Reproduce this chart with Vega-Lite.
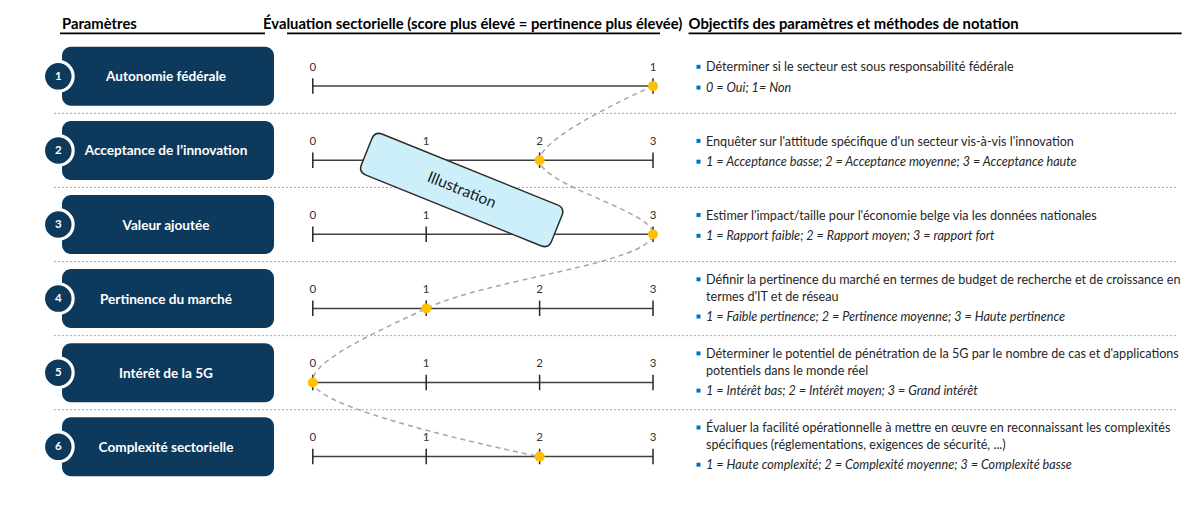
{
  "$schema": "https://vega.github.io/schema/vega-lite/v6.json",
  "width": 1203,
  "height": 508,
  "autosize": "none",
  "padding": 0,
  "background": "white",
  "config": {"view": {"stroke": null}, "font": "Lato"},
  "datasets": {
    "params": [
      {"row": 1, "parametre": "Autonomie fédérale", "score": 1, "max": 1, "objectif": "Déterminer si le secteur est sous responsabilité fédérale", "notation": "0 = Oui; 1= Non"},
      {"row": 2, "parametre": "Acceptance de l’innovation", "score": 2, "max": 3, "objectif": "Enquêter sur l'attitude spécifique d'un secteur vis-à-vis l'innovation", "notation": "1 = Acceptance basse; 2 = Acceptance moyenne; 3 = Acceptance haute"},
      {"row": 3, "parametre": "Valeur ajoutée", "score": 3, "max": 3, "objectif": "Estimer l'impact/taille pour l'économie belge via les données nationales", "notation": "1 = Rapport faible; 2 = Rapport moyen; 3 = rapport fort"},
      {"row": 4, "parametre": "Pertinence du marché", "score": 1, "max": 3, "objectif": "Définir la pertinence du marché en termes de budget de recherche et de croissance en\ntermes d'IT et de réseau", "notation": "1 = Faible pertinence; 2 = Pertinence moyenne; 3 = Haute pertinence"},
      {"row": 5, "parametre": "Intérêt de la 5G", "score": 0, "max": 3, "objectif": "Déterminer le potentiel de pénétration de la 5G par le nombre de cas et d'applications\npotentiels dans le monde réel", "notation": "1 = Intérêt bas; 2 = Intérêt moyen; 3 = Grand intérêt"},
      {"row": 6, "parametre": "Complexité sectorielle", "score": 2, "max": 3, "objectif": "Évaluer la facilité opérationnelle à mettre en œuvre en reconnaissant les complexités\nspécifiques (réglementations, exigences de sécurité, ...)", "notation": "1 = Haute complexité; 2 = Complexité moyenne; 3 = Complexité basse"}
    ],
    "ticks": [
      {"row": 1, "value": 0, "max": 1}, {"row": 1, "value": 1, "max": 1},
      {"row": 2, "value": 0, "max": 3}, {"row": 2, "value": 1, "max": 3}, {"row": 2, "value": 2, "max": 3}, {"row": 2, "value": 3, "max": 3},
      {"row": 3, "value": 0, "max": 3}, {"row": 3, "value": 1, "max": 3}, {"row": 3, "value": 2, "max": 3}, {"row": 3, "value": 3, "max": 3},
      {"row": 4, "value": 0, "max": 3}, {"row": 4, "value": 1, "max": 3}, {"row": 4, "value": 2, "max": 3}, {"row": 4, "value": 3, "max": 3},
      {"row": 5, "value": 0, "max": 3}, {"row": 5, "value": 1, "max": 3}, {"row": 5, "value": 2, "max": 3}, {"row": 5, "value": 3, "max": 3},
      {"row": 6, "value": 0, "max": 3}, {"row": 6, "value": 1, "max": 3}, {"row": 6, "value": 2, "max": 3}, {"row": 6, "value": 3, "max": 3}
    ]
  },
  "layer": [
    {
      "data": {"name": "params"},
      "transform": [{"filter": "datum.row < 6"}],
      "mark": {"type": "rule", "yOffset": 37.05, "strokeDash": [2, 2], "color": "#A8A8A8", "strokeWidth": 1},
      "encoding": {
        "x": {"datum": -0.76073, "type": "quantitative", "scale": {"domain": [-0.91946, 2.6167], "nice": false, "zero": false}, "axis": null},
        "x2": {"datum": 2.5432},
        "y": {"field": "row", "type": "quantitative", "scale": {"domain": [-0.02969, 6.82591], "reverse": true, "nice": false, "zero": false}, "axis": null}
      }
    },
    {
      "data": {"values": [{}]},
      "mark": {"type": "text", "text": "Paramètres", "align": "left", "baseline": "alphabetic", "dy": 26.8, "fontWeight": "bold", "fontSize": 14.8, "color": "#000000"},
      "encoding": {
        "x": {"datum": -0.73721, "type": "quantitative", "scale": {"domain": [-0.91946, 2.6167], "nice": false, "zero": false}, "axis": null},
        "y": {"datum": 0, "type": "quantitative", "scale": {"domain": [-0.02969, 6.82591], "reverse": true, "nice": false, "zero": false}, "axis": null}
      }
    },
    {
      "data": {"values": [{}]},
      "mark": {"type": "text", "text": "Évaluation sectorielle (score plus élevé = pertinence plus élevée)", "align": "left", "baseline": "alphabetic", "dy": 26.8, "fontWeight": "bold", "fontSize": 14.8, "color": "#000000"},
      "encoding": {
        "x": {"datum": -0.14638, "type": "quantitative", "scale": {"domain": [-0.91946, 2.6167], "nice": false, "zero": false}, "axis": null},
        "y": {"datum": 0, "type": "quantitative", "scale": {"domain": [-0.02969, 6.82591], "reverse": true, "nice": false, "zero": false}, "axis": null}
      }
    },
    {
      "data": {"values": [{}]},
      "mark": {"type": "text", "text": "Objectifs des paramètres et méthodes de notation", "align": "left", "baseline": "alphabetic", "dy": 26.8, "fontWeight": "bold", "fontSize": 14.8, "color": "#000000"},
      "encoding": {
        "x": {"datum": 1.10465, "type": "quantitative", "scale": {"domain": [-0.91946, 2.6167], "nice": false, "zero": false}, "axis": null},
        "y": {"datum": 0, "type": "quantitative", "scale": {"domain": [-0.02969, 6.82591], "reverse": true, "nice": false, "zero": false}, "axis": null}
      }
    },
    {
      "data": {"values": [{}]},
      "mark": {"type": "rule", "yOffset": 31.2, "strokeWidth": 1.8, "color": "#000000"},
      "encoding": {
        "x": {"datum": -0.74309, "type": "quantitative", "scale": {"domain": [-0.91946, 2.6167], "nice": false, "zero": false}, "axis": null},
        "x2": {"datum": -0.14051},
        "y": {"datum": 0, "type": "quantitative", "scale": {"domain": [-0.02969, 6.82591], "reverse": true, "nice": false, "zero": false}, "axis": null}
      }
    },
    {
      "data": {"values": [{}]},
      "mark": {"type": "rule", "yOffset": 31.2, "strokeWidth": 1.8, "color": "#000000"},
      "encoding": {
        "x": {"datum": -0.07584, "type": "quantitative", "scale": {"domain": [-0.91946, 2.6167], "nice": false, "zero": false}, "axis": null},
        "x2": {"datum": 1.02058},
        "y": {"datum": 0, "type": "quantitative", "scale": {"domain": [-0.02969, 6.82591], "reverse": true, "nice": false, "zero": false}, "axis": null}
      }
    },
    {
      "data": {"values": [{}]},
      "mark": {"type": "rule", "yOffset": 31.2, "strokeWidth": 1.8, "color": "#000000"},
      "encoding": {
        "x": {"datum": 1.10465, "type": "quantitative", "scale": {"domain": [-0.91946, 2.6167], "nice": false, "zero": false}, "axis": null},
        "x2": {"datum": 2.55408},
        "y": {"datum": 0, "type": "quantitative", "scale": {"domain": [-0.02969, 6.82591], "reverse": true, "nice": false, "zero": false}, "axis": null}
      }
    },
    {
      "data": {"name": "params"},
      "mark": {"type": "rect", "yOffset": -29.5, "y2Offset": 29.5, "cornerRadius": 9, "color": "#0D3A5C"},
      "encoding": {
        "x": {"datum": -0.73721, "type": "quantitative", "scale": {"domain": [-0.91946, 2.6167], "nice": false, "zero": false}, "axis": null},
        "x2": {"datum": -0.11405},
        "y": {"field": "row", "type": "quantitative", "scale": {"domain": [-0.02969, 6.82591], "reverse": true, "nice": false, "zero": false}, "axis": null},
        "y2": {"field": "row"}
      }
    },
    {
      "data": {"name": "params"},
      "mark": {"type": "point", "shape": "circle", "filled": true, "size": 880, "fill": "#0D3A5C", "stroke": "#FFFFFF", "strokeWidth": 3.2, "opacity": 1},
      "encoding": {
        "x": {"datum": -0.74809, "type": "quantitative", "scale": {"domain": [-0.91946, 2.6167], "nice": false, "zero": false}, "axis": null},
        "y": {"field": "row", "type": "quantitative", "scale": {"domain": [-0.02969, 6.82591], "reverse": true, "nice": false, "zero": false}, "axis": null}
      }
    },
    {
      "data": {"name": "params"},
      "mark": {"type": "text", "fontWeight": "bold", "fontSize": 11.5, "color": "#FFFFFF", "baseline": "middle", "dy": 0.5},
      "encoding": {
        "x": {"datum": -0.74809, "type": "quantitative", "scale": {"domain": [-0.91946, 2.6167], "nice": false, "zero": false}, "axis": null},
        "y": {"field": "row", "type": "quantitative", "scale": {"domain": [-0.02969, 6.82591], "reverse": true, "nice": false, "zero": false}, "axis": null},
        "text": {"field": "row", "type": "quantitative"}
      }
    },
    {
      "data": {"name": "params"},
      "mark": {"type": "text", "fontWeight": "bold", "fontSize": 13.6, "color": "#FFFFFF", "baseline": "middle", "dy": 1},
      "encoding": {
        "x": {"datum": -0.43151, "type": "quantitative", "scale": {"domain": [-0.91946, 2.6167], "nice": false, "zero": false}, "axis": null},
        "y": {"field": "row", "type": "quantitative", "scale": {"domain": [-0.02969, 6.82591], "reverse": true, "nice": false, "zero": false}, "axis": null},
        "text": {"field": "parametre", "type": "nominal"}
      }
    },
    {
      "data": {"name": "params"},
      "mark": {"type": "rule", "yOffset": 9.8, "color": "#404040", "strokeWidth": 1.5},
      "encoding": {
        "x": {"datum": 0, "type": "quantitative", "scale": {"domain": [-0.91946, 2.6167], "nice": false, "zero": false}, "axis": null},
        "x2": {"datum": 1},
        "y": {"field": "row", "type": "quantitative", "scale": {"domain": [-0.02969, 6.82591], "reverse": true, "nice": false, "zero": false}, "axis": null}
      }
    },
    {
      "data": {"name": "ticks"},
      "transform": [{"calculate": "datum.value / datum.max", "as": "part"}],
      "mark": {"type": "rule", "yOffset": 2, "y2Offset": 17.5, "color": "#262626", "strokeWidth": 1.5},
      "encoding": {
        "x": {"field": "part", "type": "quantitative", "scale": {"domain": [-0.91946, 2.6167], "nice": false, "zero": false}, "axis": null},
        "y": {"field": "row", "type": "quantitative", "scale": {"domain": [-0.02969, 6.82591], "reverse": true, "nice": false, "zero": false}, "axis": null},
        "y2": {"field": "row"}
      }
    },
    {
      "data": {"name": "ticks"},
      "transform": [{"calculate": "datum.value / datum.max", "as": "part"}],
      "mark": {"type": "text", "fontSize": 11.5, "color": "#333333", "baseline": "middle", "dy": -8.5},
      "encoding": {
        "x": {"field": "part", "type": "quantitative", "scale": {"domain": [-0.91946, 2.6167], "nice": false, "zero": false}, "axis": null},
        "y": {"field": "row", "type": "quantitative", "scale": {"domain": [-0.02969, 6.82591], "reverse": true, "nice": false, "zero": false}, "axis": null},
        "text": {"field": "value", "type": "quantitative"}
      }
    },
    {
      "data": {"name": "params"},
      "transform": [{"calculate": "datum.score / datum.max", "as": "part"}],
      "mark": {"type": "line", "interpolate": "catmull-rom", "yOffset": 9.8, "strokeDash": [5, 4], "color": "#A6A6A6", "strokeWidth": 1.5},
      "encoding": {
        "x": {"field": "part", "type": "quantitative", "scale": {"domain": [-0.91946, 2.6167], "nice": false, "zero": false}, "axis": null},
        "y": {"field": "row", "type": "quantitative", "scale": {"domain": [-0.02969, 6.82591], "reverse": true, "nice": false, "zero": false}, "axis": null},
        "order": {"field": "row", "type": "quantitative"}
      }
    },
    {
      "data": {"name": "params"},
      "transform": [{"calculate": "datum.score / datum.max", "as": "part"}],
      "mark": {"type": "point", "shape": "circle", "filled": true, "size": 100, "color": "#FFC000", "opacity": 1, "yOffset": 9.8},
      "encoding": {
        "x": {"field": "part", "type": "quantitative", "scale": {"domain": [-0.91946, 2.6167], "nice": false, "zero": false}, "axis": null},
        "y": {"field": "row", "type": "quantitative", "scale": {"domain": [-0.02969, 6.82591], "reverse": true, "nice": false, "zero": false}, "axis": null}
      }
    },
    {
      "data": {"values": [{}]},
      "mark": {"type": "point", "shape": "M -0.92 -0.215 L 0.92 -0.215 Q 1 -0.215 1 -0.135 L 1 0.135 Q 1 0.215 0.92 0.215 L -0.92 0.215 Q -1 0.215 -1 0.135 L -1 -0.135 Q -1 -0.215 -0.92 -0.215 Z", "filled": true, "fill": "#CDEFFA", "stroke": "#2B2B2B", "strokeWidth": 1.5, "size": 42025, "angle": 22, "opacity": 1, "fillOpacity": 1},
      "encoding": {
        "x": {"datum": 0.43768, "type": "quantitative", "scale": {"domain": [-0.91946, 2.6167], "nice": false, "zero": false}, "axis": null},
        "y": {"datum": 2.5344, "type": "quantitative", "scale": {"domain": [-0.02969, 6.82591], "reverse": true, "nice": false, "zero": false}, "axis": null}
      }
    },
    {
      "data": {"values": [{}]},
      "mark": {"type": "text", "text": "Illustration", "angle": 22, "fontSize": 15.5, "color": "#1A1A1A", "baseline": "middle"},
      "encoding": {
        "x": {"datum": 0.43768, "type": "quantitative", "scale": {"domain": [-0.91946, 2.6167], "nice": false, "zero": false}, "axis": null},
        "y": {"datum": 2.5344, "type": "quantitative", "scale": {"domain": [-0.02969, 6.82591], "reverse": true, "nice": false, "zero": false}, "axis": null}
      }
    },
    {
      "data": {"name": "params"},
      "transform": [{"filter": "indexof(datum.objectif, '\\n') < 0"}],
      "mark": {"type": "text", "align": "left", "baseline": "alphabetic", "dy": -4.9, "fontSize": 12.6, "color": "#262626"},
      "encoding": {
        "x": {"datum": 1.15579, "type": "quantitative", "scale": {"domain": [-0.91946, 2.6167], "nice": false, "zero": false}, "axis": null},
        "y": {"field": "row", "type": "quantitative", "scale": {"domain": [-0.02969, 6.82591], "reverse": true, "nice": false, "zero": false}, "axis": null},
        "text": {"field": "objectif", "type": "nominal"}
      }
    },
    {
      "data": {"name": "params"},
      "transform": [{"filter": "indexof(datum.objectif, '\\n') >= 0"}],
      "mark": {"type": "text", "align": "left", "baseline": "alphabetic", "dy": -14.7, "lineBreak": "\n", "lineHeight": 17.2, "fontSize": 12.6, "color": "#262626"},
      "encoding": {
        "x": {"datum": 1.15579, "type": "quantitative", "scale": {"domain": [-0.91946, 2.6167], "nice": false, "zero": false}, "axis": null},
        "y": {"field": "row", "type": "quantitative", "scale": {"domain": [-0.02969, 6.82591], "reverse": true, "nice": false, "zero": false}, "axis": null},
        "text": {"field": "objectif", "type": "nominal"}
      }
    },
    {
      "data": {"name": "params"},
      "transform": [{"filter": "indexof(datum.objectif, '\\n') < 0"}],
      "mark": {"type": "text", "align": "left", "baseline": "alphabetic", "dy": 15.9, "fontSize": 12.6, "fontStyle": "italic", "color": "#262626"},
      "encoding": {
        "x": {"datum": 1.15579, "type": "quantitative", "scale": {"domain": [-0.91946, 2.6167], "nice": false, "zero": false}, "axis": null},
        "y": {"field": "row", "type": "quantitative", "scale": {"domain": [-0.02969, 6.82591], "reverse": true, "nice": false, "zero": false}, "axis": null},
        "text": {"field": "notation", "type": "nominal"}
      }
    },
    {
      "data": {"name": "params"},
      "transform": [{"filter": "indexof(datum.objectif, '\\n') >= 0"}],
      "mark": {"type": "text", "align": "left", "baseline": "alphabetic", "dy": 22.5, "fontSize": 12.6, "fontStyle": "italic", "color": "#262626"},
      "encoding": {
        "x": {"datum": 1.15579, "type": "quantitative", "scale": {"domain": [-0.91946, 2.6167], "nice": false, "zero": false}, "axis": null},
        "y": {"field": "row", "type": "quantitative", "scale": {"domain": [-0.02969, 6.82591], "reverse": true, "nice": false, "zero": false}, "axis": null},
        "text": {"field": "notation", "type": "nominal"}
      }
    },
    {
      "data": {"name": "params"},
      "transform": [{"filter": "indexof(datum.objectif, '\\n') < 0"}],
      "mark": {"type": "point", "shape": "square", "filled": true, "size": 16, "color": "#0070C0", "opacity": 1, "yOffset": -9.5},
      "encoding": {
        "x": {"datum": 1.13374, "type": "quantitative", "scale": {"domain": [-0.91946, 2.6167], "nice": false, "zero": false}, "axis": null},
        "y": {"field": "row", "type": "quantitative", "scale": {"domain": [-0.02969, 6.82591], "reverse": true, "nice": false, "zero": false}, "axis": null}
      }
    },
    {
      "data": {"name": "params"},
      "transform": [{"filter": "indexof(datum.objectif, '\\n') < 0"}],
      "mark": {"type": "point", "shape": "square", "filled": true, "size": 16, "color": "#0070C0", "opacity": 1, "yOffset": 11.3},
      "encoding": {
        "x": {"datum": 1.13374, "type": "quantitative", "scale": {"domain": [-0.91946, 2.6167], "nice": false, "zero": false}, "axis": null},
        "y": {"field": "row", "type": "quantitative", "scale": {"domain": [-0.02969, 6.82591], "reverse": true, "nice": false, "zero": false}, "axis": null}
      }
    },
    {
      "data": {"name": "params"},
      "transform": [{"filter": "indexof(datum.objectif, '\\n') >= 0"}],
      "mark": {"type": "point", "shape": "square", "filled": true, "size": 16, "color": "#0070C0", "opacity": 1, "yOffset": -19.3},
      "encoding": {
        "x": {"datum": 1.13374, "type": "quantitative", "scale": {"domain": [-0.91946, 2.6167], "nice": false, "zero": false}, "axis": null},
        "y": {"field": "row", "type": "quantitative", "scale": {"domain": [-0.02969, 6.82591], "reverse": true, "nice": false, "zero": false}, "axis": null}
      }
    },
    {
      "data": {"name": "params"},
      "transform": [{"filter": "indexof(datum.objectif, '\\n') >= 0"}],
      "mark": {"type": "point", "shape": "square", "filled": true, "size": 16, "color": "#0070C0", "opacity": 1, "yOffset": 17.9},
      "encoding": {
        "x": {"datum": 1.13374, "type": "quantitative", "scale": {"domain": [-0.91946, 2.6167], "nice": false, "zero": false}, "axis": null},
        "y": {"field": "row", "type": "quantitative", "scale": {"domain": [-0.02969, 6.82591], "reverse": true, "nice": false, "zero": false}, "axis": null}
      }
    }
  ]
}
